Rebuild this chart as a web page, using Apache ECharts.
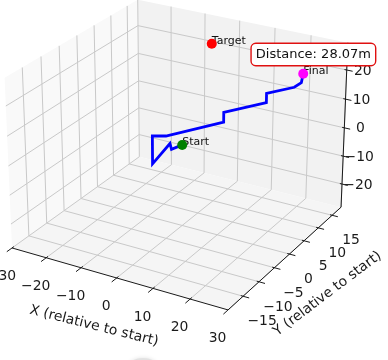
<!DOCTYPE html>
<html>
<head>
<meta charset="utf-8">
<script src="https://cdn.jsdelivr.net/npm/echarts@6/dist/echarts.min.js"></script>
<style>
  html, body { margin: 0; padding: 0; background: #fff; }
  #chart { width: 388px; height: 360px; }
</style>
</head>
<body>
<div id="chart"></div>
<script>
// Trajectory in metres, relative to the start point
const pathX = [0, -1.0, -3.0, -0.8, -0.8, 2.0, 10.0, 10.0, 16.2, 16.2, 20.3, 20.5, 20.4];
const pathY = [0, -2.2, -0.5, -8.1, -8.1, -7.1, 1.7, 1.7, 8.2, 8.2, 12.5, 14.7, 15.4];
const pathZ = [0, 0, 0, 0, 9.4, 9.4, 9.4, 12.7, 12.7, 15.8, 15.8, 15.8, 18.3];
const startPoint = [0, 0, 0];
const targetPoint = [-7.54, 17.8, 19.6];

// Axis limits and tick values
const xLim = [-30, 30];
const yLim = [-19.6, 18.3];
const zLim = [-28.4, 29.2];
const xTicks = [-30, -20, -10, 0, 10, 20, 30];
const yTicks = [-15, -10, -5, 0, 5, 10, 15];
const zTicks = [-20, -10, 0, 10, 20];

const FONT = "'DejaVu Sans', sans-serif";

// Perspective camera looking at the unit box (aspect 4:4:3)
const cam = { elev: 25, azim: -60, dist: 30, scale: 61.46, cx: 180.1, cy: 145.3, box: [4, 4, 3] };
const e = cam.elev * Math.PI / 180, a = cam.azim * Math.PI / 180;
const vRight = [-Math.sin(a), Math.cos(a), 0];
const vUp = [-Math.cos(a) * Math.sin(e), -Math.sin(a) * Math.sin(e), Math.cos(e)];
const vEye = [Math.cos(e) * Math.cos(a), Math.cos(e) * Math.sin(a), Math.sin(e)];
const dot = (p, q) => p[0] * q[0] + p[1] * q[1] + p[2] * q[2];
function project(x, y, z) {
  const P = [
    ((x - xLim[0]) / (xLim[1] - xLim[0]) - 0.5) * cam.box[0],
    ((y - yLim[0]) / (yLim[1] - yLim[0]) - 0.5) * cam.box[1],
    ((z - zLim[0]) / (zLim[1] - zLim[0]) - 0.5) * cam.box[2]
  ];
  const f = cam.dist / (cam.dist - dot(P, vEye));
  return [cam.cx + cam.scale * f * dot(P, vRight), cam.cy - cam.scale * f * dot(P, vUp)];
}

const fmt = v => (v < 0 ? '\u2212' + Math.abs(v) : String(v));
const [x0, x1] = xLim, [y0, y1] = yLim, [z0, z1] = zLim;

// Panes: left wall (x = min), back wall (y = max), floor (z = min)
const panes = [
  { c: [[x0, y0, z0], [x0, y1, z0], [x0, y1, z1], [x0, y0, z1]], fill: '#f9f9f9' },
  { c: [[x0, y1, z0], [x1, y1, z0], [x1, y1, z1], [x0, y1, z1]], fill: '#f2f2f2' },
  { c: [[x0, y0, z0], [x1, y0, z0], [x1, y1, z0], [x0, y1, z0]], fill: '#f5f5f5' }
];

// Grid lines on the panes
const gridSegs = [];
xTicks.forEach(v => { gridSegs.push([v, y0, z0, v, y1, z0]); gridSegs.push([v, y1, z0, v, y1, z1]); });
yTicks.forEach(v => { gridSegs.push([x0, v, z0, x1, v, z0]); gridSegs.push([x0, v, z0, x0, v, z1]); });
zTicks.forEach(v => { gridSegs.push([x0, y0, v, x0, y1, v]); gridSegs.push([x0, y1, v, x1, y1, v]); });

// Axis lines and tick marks
const axisSegs = [
  [x0, y0, z0, x1, y0, z0],
  [x1, y0, z0, x1, y1, z0],
  [x1, y1, z0, x1, y1, z1]
];
xTicks.forEach(v => axisSegs.push([v, y0 + 0.5, z0, v, y0 - 1.4, z0]));
yTicks.forEach(v => axisSegs.push([x1 - 0.6, v, z0, x1 + 1.6, v, z0]));
zTicks.forEach(v => axisSegs.push([x1 - 0.6, y1, v, x1 + 1.6, y1, v]));

// Tick labels: [x, y, z, dx, dy, text]
const tickLabels = [];
xTicks.forEach(v => tickLabels.push([v, y0, z0, -10.5, 28.5, fmt(v)]));
yTicks.forEach(v => tickLabels.push([x1, v, z0, 19, 25.5, fmt(v)]));
zTicks.forEach(v => tickLabels.push([x1, y1, v, 16, 1, fmt(v)]));

const finalPoint = [pathX[pathX.length - 1], pathY[pathY.length - 1], pathZ[pathZ.length - 1]];
const markers = [
  { p: startPoint, color: '#008000', text: 'Start' },
  { p: targetPoint, color: '#ff0000', text: 'Target' },
  { p: finalPoint, color: '#ff00ff', text: 'Final' }
];
const distance = Math.hypot(finalPoint[0] - targetPoint[0], finalPoint[1] - targetPoint[1], finalPoint[2] - targetPoint[2]);

function segmentSeries(segs, style, z) {
  return {
    type: 'custom', coordinateSystem: 'cartesian2d', silent: true, z: z,
    data: segs.map((s, i) => [0, 0, i]),
    renderItem: (params, api) => {
      const s = segs[params.dataIndex];
      const p = api.coord(project(s[0], s[1], s[2]));
      const q = api.coord(project(s[3], s[4], s[5]));
      return { type: 'line', shape: { x1: p[0], y1: p[1], x2: q[0], y2: q[1] }, style: style };
    }
  };
}

const chart = echarts.init(document.getElementById('chart'), null, { renderer: 'canvas' });
chart.setOption({
  animation: false,
  backgroundColor: '#ffffff',
  grid: { left: 0, right: 0, top: 0, bottom: 0, containLabel: false, outerBoundsMode: 'none' },
  xAxis: { type: 'value', min: 0, max: 388, show: false },
  yAxis: { type: 'value', min: 0, max: 360, inverse: true, show: false },
  series: [
    {
      type: 'custom', coordinateSystem: 'cartesian2d', silent: true, z: 1,
      data: panes.map((p, i) => [0, 0, i]),
      renderItem: (params, api) => {
        const pane = panes[params.dataIndex];
        return {
          type: 'polygon',
          shape: { points: pane.c.map(c => api.coord(project(c[0], c[1], c[2]))) },
          style: { fill: pane.fill, stroke: null }
        };
      }
    },
    segmentSeries(gridSegs, { stroke: '#c9c9c9', lineWidth: 1 }, 2),
    segmentSeries(axisSegs, { stroke: '#1a1a1a', lineWidth: 1 }, 3),
    {
      type: 'custom', coordinateSystem: 'cartesian2d', silent: true, z: 3,
      data: tickLabels.map((t, i) => [0, 0, i]),
      renderItem: (params, api) => {
        const t = tickLabels[params.dataIndex];
        const p = api.coord(project(t[0], t[1], t[2]));
        return {
          type: 'text',
          style: { text: t[5], x: p[0] + t[3], y: p[1] + t[4], font: '13.9px ' + FONT, fill: '#1a1a1a', align: 'center', verticalAlign: 'middle' }
        };
      }
    },
    {
      type: 'custom', coordinateSystem: 'cartesian2d', silent: true, z: 3,
      data: [[0, 0, 0], [0, 0, 1]],
      renderItem: (params, api) => {
        let mid, ang, dx, dy, text;
        if (params.dataIndex === 0) {
          mid = project(0, y0, z0); ang = -14; dx = -22.7; dy = 48; text = 'X (relative to start)';
        } else {
          mid = project(x1, (y0 + y1) / 2, z0); ang = 37; dx = 40; dy = 38; text = 'Y (relative to start)';
        }
        const p = api.coord(mid);
        return {
          type: 'text', x: p[0] + dx, y: p[1] + dy, rotation: ang * Math.PI / 180,
          style: { text: text, x: 0, y: 0, font: '13.9px ' + FONT, fill: '#1a1a1a', align: 'center', verticalAlign: 'middle' }
        };
      }
    },
    {
      type: 'line', z: 5, silent: true, showSymbol: false, clip: false,
      data: pathX.map((x, i) => project(x, pathY[i], pathZ[i])),
      lineStyle: { color: '#0000ff', width: 2.8, join: 'miter', opacity: 1 }
    },
    {
      type: 'custom', coordinateSystem: 'cartesian2d', silent: true, z: 6,
      data: markers.map((m, i) => [0, 0, i]),
      renderItem: (params, api) => {
        const m = markers[params.dataIndex];
        const p = api.coord(project(m.p[0], m.p[1], m.p[2]));
        return {
          type: 'text',
          style: { text: m.text, x: p[0], y: p[1] + 2.5, font: '11px ' + FONT, fill: '#111', align: 'left', verticalAlign: 'bottom' }
        };
      }
    },
    {
      type: 'scatter', z: 7, silent: true, symbolSize: 10,
      data: markers.map(m => ({ value: project(m.p[0], m.p[1], m.p[2]), itemStyle: { color: m.color, opacity: 1 } }))
    }
  ],
  graphic: [
    {
      type: 'text', x: 375, y: 44, z: 10,
      style: {
        text: 'Distance: ' + distance.toFixed(2) + 'm',
        font: '13px ' + FONT, fill: '#111', align: 'right', verticalAlign: 'top',
        backgroundColor: '#ffffff', borderColor: '#e01010', borderWidth: 1.4, borderRadius: 4, padding: [4, 4, 4, 4]
      }
    },
    {
      type: 'ellipse', z: 0, silent: true,
      shape: { cx: 143, cy: 366, rx: 14, ry: 8 },
      style: { fill: '#e2e2e2', shadowBlur: 4, shadowColor: '#e2e2e2' }
    }
  ]
});
</script>
</body>
</html>
